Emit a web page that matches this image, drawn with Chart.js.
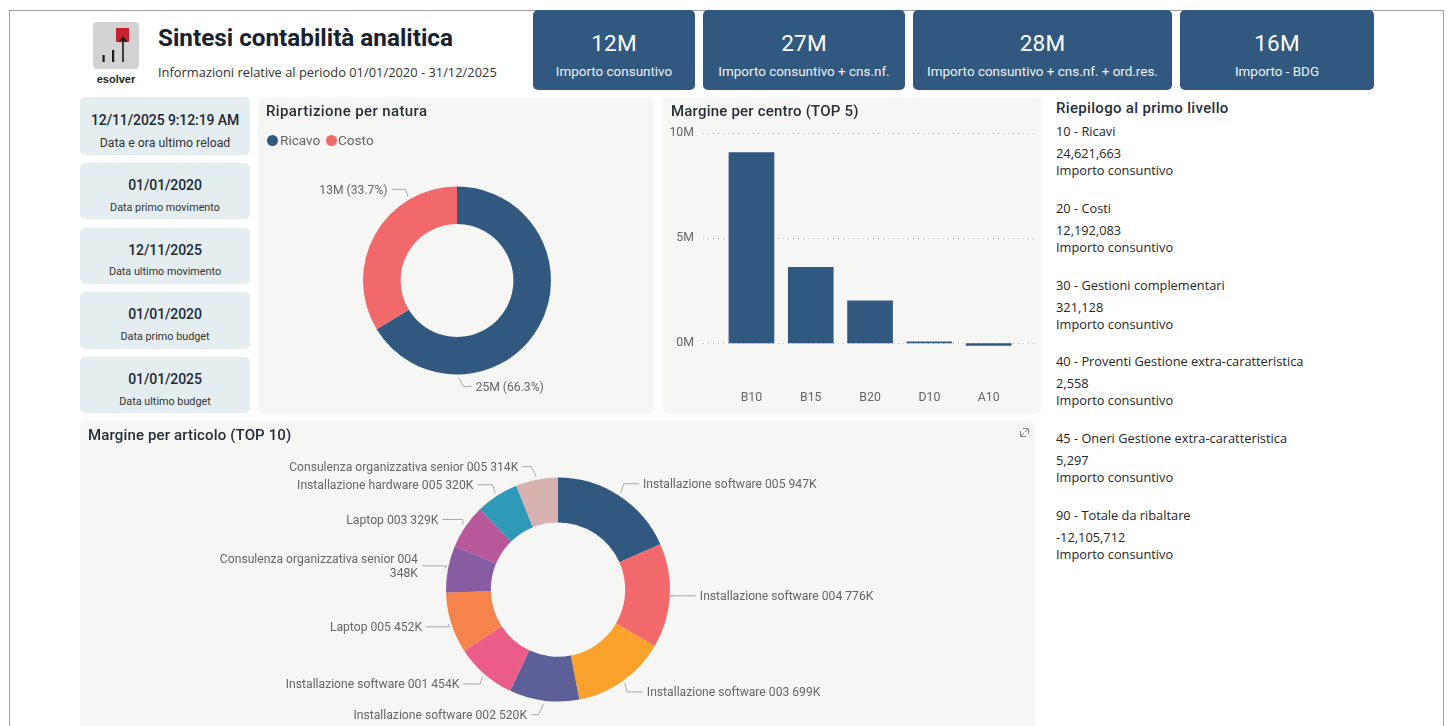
<!DOCTYPE html>
<html lang="it">
<head>
<meta charset="utf-8">
<title>Sintesi contabilità analitica</title>
<script src="https://cdn.jsdelivr.net/npm/chart.js@4"></script>
<style>
html, body { margin: 0; padding: 0; background: #fff; width: 1450px; height: 726px; overflow: hidden; font-family: Roboto, sans-serif; }
.abs { position: absolute; }
#cornice { left: 9px; top: 10px; width: 1435px; height: 730px; border: 1px solid #a0a0a0; box-sizing: border-box; }
.pannello { background: #f6f6f5; border-radius: 6px; }
.kpi { top: 10px; height: 80px; background: #31587f; color: #fff; border-radius: 5px; text-align: center; }
.kpi .val { font-size: 22.5px; font-weight: 400; margin-top: 20px; line-height: 26px; letter-spacing: .2px; }
.kpi .lab { font-size: 13.45px; margin-top: 8px; line-height: 16px; color: #eef2f6; }
.data { left: 80px; width: 170px; background: #e4eef1; border-radius: 5px; text-align: center; color: #1d2833; }
.data .val { font-size: 14px; font-weight: 500; letter-spacing: -.1px; }
.data .lab { color: #333; }
.titolo { font-size: 15px; font-weight: 500; color: #252f3a; white-space: nowrap; }
.riga { left: 1056px; font-size: 12.8px; color: #252525; white-space: nowrap; font-family: "Open Sans", sans-serif; line-height: 17px; }
canvas { position: absolute; display: block; }
.legenda { font-size: 13.6px; color: #666; white-space: nowrap; line-height: 16px; }
.pallino { width: 11px; height: 11px; border-radius: 50%; }
</style>
</head>
<body>
<div id="cornice" class="abs"></div>

<!-- logo -->
<svg class="abs" style="left:92px;top:21px" width="48" height="68" viewBox="0 0 48 68">
  <rect x="1" y="1" width="46" height="47" rx="4" fill="#d2d2d2"/>
  <rect x="24" y="7" width="13" height="14" fill="#c8202c"/>
  <path d="M31 41V17M27.5 21L31 16.5L34.5 21" stroke="#1a1a1a" stroke-width="1.6" fill="none"/>
  <rect x="10.5" y="34" width="2.2" height="7" fill="#1a1a1a"/>
  <rect x="20" y="29" width="2.2" height="12" fill="#1a1a1a"/>
  <text x="24" y="62" text-anchor="middle" font-family="Liberation Sans" font-weight="700" font-size="11" fill="#222">esolver</text>
</svg>

<div class="abs" style="left:158px;top:23px;font-size:24.25px;font-weight:700;color:#18222e;line-height:30px;white-space:nowrap">Sintesi contabilità analitica</div>
<div class="abs" style="left:158px;top:64px;font-size:12.88px;color:#333;line-height:17px;white-space:nowrap;font-family:'Open Sans',sans-serif">Informazioni relative al periodo 01/01/2020 - 31/12/2025</div>

<div id="kpi"></div>
<div id="date"></div>

<div class="abs pannello" style="left:258px;top:97px;width:396px;height:317px">
  <canvas id="chartNatura" width="396" height="317" style="left:0;top:0"></canvas>
</div>
<div class="abs titolo" style="left:266px;top:102px;letter-spacing:.38px">Ripartizione per natura</div>
<div id="legenda"></div>

<div class="abs pannello" style="left:662px;top:97px;width:380px;height:317px">
  <canvas id="chartCentro" width="380" height="317" style="left:0;top:0"></canvas>
</div>
<div class="abs titolo" style="left:671px;top:102px;letter-spacing:.2px">Margine per centro (TOP 5)</div>

<div class="abs titolo" style="left:1056px;top:99px;letter-spacing:.32px">Riepilogo al primo livello</div>
<div id="riepilogo"></div>

<div class="abs pannello" style="left:80px;top:421px;width:955px;height:320px">
  <canvas id="chartArticolo" width="955" height="305" style="left:0;top:0"></canvas>
</div>
<div class="abs titolo" style="left:88px;top:426px;letter-spacing:.14px">Margine per articolo (TOP 10)</div>
<svg class="abs" style="left:1020px;top:428px" width="9" height="9" viewBox="0 0 9 9" fill="none" stroke="#888" stroke-width="1">
  <path d="M.5 3V8.5H6M3 .5H8.5V6M8.5 .5L5 4M.5 8.5L4 5"/>
</svg>

<script>
const kpiValori = ['12M', '27M', '28M', '16M'];
const kpiNomi = ['Importo consuntivo', 'Importo consuntivo + cns.nf.', 'Importo consuntivo + cns.nf. + ord.res.', 'Importo - BDG'];
const dateValori = ['12/11/2025 9:12:19 AM', '01/01/2020', '12/11/2025', '01/01/2020', '01/01/2025'];
const dateNomi = ['Data e ora ultimo reload', 'Data primo movimento', 'Data ultimo movimento', 'Data primo budget', 'Data ultimo budget'];

const nature = ['Ricavo', 'Costo'];
const valoriNatura = [25000000, 12700000];

const centri = ['B10', 'B15', 'B20', 'D10', 'A10'];
const valoriCentro = [9100000, 3630000, 2040000, 80000, -120000];
const tickCentro = [0, 5000000, 10000000];

const articoli = [
    'Installazione software 005', 'Installazione software 004', 'Installazione software 003',
    'Installazione software 002', 'Installazione software 001', 'Laptop 005',
    'Consulenza organizzativa senior 004', 'Laptop 003', 'Installazione hardware 005',
    'Consulenza organizzativa senior 005'
];
const valoriArticolo = [947000, 776000, 699000, 520000, 454000, 452000, 348000, 329000, 320000, 314000];

const livelli = ['10 - Ricavi', '20 - Costi', '30 - Gestioni complementari', '40 - Proventi Gestione extra-caratteristica', '45 - Oneri Gestione extra-caratteristica', '90 - Totale da ribaltare'];
const valoriLivello = ['24,621,663', '12,192,083', '321,128', '2,558', '5,297', '-12,105,712'];

// stile e posizioni
const blu = '#31587f';
const coloriNatura = [blu, '#f2696c'];
const coloriArticolo = [blu, '#f2696c', '#f9a12a', '#5c5f98', '#ec5c89', '#f5834b', '#865ca2', '#b8589a', '#2e9ab8', '#d7b0b0'];
// spostamento dell'etichetta rispetto al punto sul bordo della fetta
const scartiNatura = [[17, 12], [-22, -10]];
const scartiArticolo = [[24, -12], [30, 0], [24, 11], [-17, 14], [-25, 10], [-29, 4], [-30, -3], [-27, -7], [-23.5, -11], [-18.4, -13]];
const kpiBox = [[533, 162], [703, 202], [913, 259], [1180, 194]];
const dateBox = [[97, 58, 12.3, 15, 7], [163, 56, 10.8, 14, 7], [228, 56, 10.8, 14, 6], [292, 57, 10.8, 14, 7], [357, 56, 10.8, 14, 7]];

function aggiungi(idPadre, html) {
    document.getElementById(idPadre).insertAdjacentHTML('beforeend', html);
}

kpiValori.forEach((v, i) => {
    aggiungi('kpi', `<div class="abs kpi" style="left:${kpiBox[i][0]}px;width:${kpiBox[i][1]}px"><div class="val">${v}</div><div class="lab">${kpiNomi[i]}</div></div>`);
});
dateValori.forEach((v, i) => {
    const [top, h, fs, mt, gap] = dateBox[i];
    aggiungi('date', `<div class="abs data" style="top:${top}px;height:${h}px"><div class="val" style="margin-top:${mt}px;line-height:17px">${v}</div><div class="lab" style="font-size:${fs}px;margin-top:${gap}px;line-height:14px">${dateNomi[i]}</div></div>`);
});
livelli.forEach((nome, i) => {
    const y = 123 + i * 76.8;
    aggiungi('riepilogo', `<div class="abs riga" style="top:${y}px">${nome}</div><div class="abs riga" style="top:${y + 22}px">${valoriLivello[i]}</div><div class="abs riga" style="top:${y + 39}px">${kpiNomi[0]}</div>`);
});
aggiungi('legenda', `<div class="abs pallino" style="left:267px;top:135px;background:${coloriNatura[0]}"></div><div class="abs legenda" style="left:280px;top:132px">${nature[0]}</div><div class="abs pallino" style="left:326px;top:135px;background:${coloriNatura[1]}"></div><div class="abs legenda" style="left:338px;top:132px">${nature[1]}</div>`);

// etichette esterne con linea guida
const etichettePlugin = {
    id: 'etichette',
    afterDatasetsDraw(chart, args, opts) {
        const ctx = chart.ctx;
        ctx.save();
        ctx.font = '12.15px Roboto';
        ctx.fillStyle = '#666';
        ctx.strokeStyle = '#aaa';
        ctx.lineWidth = 1;
        ctx.textBaseline = 'middle';
        chart.getDatasetMeta(0).data.forEach((arc, i) => {
            const a = arc.startAngle + (arc.endAngle - arc.startAngle) * opts.frazione;
            const px = arc.x + Math.cos(a) * arc.outerRadius;
            const py = arc.y + Math.sin(a) * arc.outerRadius;
            const [dx, dy] = opts.scarti[i];
            const segno = dx >= 0 ? 1 : -1;
            const tx = px + dx;
            const ty = py + dy;
            ctx.beginPath();
            ctx.moveTo(px + Math.cos(a) * 3, py + Math.sin(a) * 3);
            ctx.lineTo(px + segno * Math.abs(dy) * 0.4, ty);
            ctx.lineTo(tx - segno * 4, ty);
            ctx.stroke();
            ctx.textAlign = segno > 0 ? 'left' : 'right';
            const righe = opts.testi[i];
            righe.forEach((r, k) => ctx.fillText(r, tx, ty + 1.5 + (k - (righe.length - 1) / 2) * 14));
        });
        ctx.restore();
    }
};

const totaleNatura = valoriNatura.reduce((a, b) => a + b, 0);
new Chart(document.getElementById('chartNatura'), {
    type: 'doughnut',
    plugins: [etichettePlugin],
    data: {
        labels: nature,
        datasets: [{ data: valoriNatura, backgroundColor: coloriNatura, borderWidth: 0 }]
    },
    options: {
        responsive: false,
        animation: false,
        cutout: '60%',
        layout: { padding: { left: 105, right: 103, top: 89.5, bottom: 39.5 } },
        plugins: {
            legend: { display: false },
            tooltip: { enabled: false },
            etichette: {
                frazione: 0.75,
                scarti: scartiNatura,
                testi: valoriNatura.map(v => [`${Math.round(v / 1e6)}M (${(v / totaleNatura * 100).toFixed(1)}%)`])
            }
        }
    }
});

// griglia puntinata più larga dell'area delle barre
const grigliaPlugin = {
    id: 'griglia',
    beforeDatasetsDraw(chart) {
        const ctx = chart.ctx;
        const y = chart.scales.y;
        ctx.save();
        ctx.strokeStyle = '#bbb';
        ctx.lineWidth = 1;
        ctx.setLineDash([1, 4]);
        tickCentro.forEach(t => {
            const py = Math.round(y.getPixelForValue(t)) + 0.5;
            ctx.beginPath();
            ctx.moveTo(41, py);
            ctx.lineTo(375, py);
            ctx.stroke();
        });
        ctx.restore();
    }
};

new Chart(document.getElementById('chartCentro'), {
    type: 'bar',
    plugins: [grigliaPlugin],
    data: {
        labels: centri,
        datasets: [{
            label: 'Margine',
            data: valoriCentro,
            backgroundColor: blu,
            categoryPercentage: 1,
            barPercentage: 0.77
        }]
    },
    options: {
        responsive: false,
        animation: false,
        layout: { padding: { left: 0, right: 23.7, top: 36.3, bottom: 0 } },
        plugins: { legend: { display: false }, tooltip: { enabled: false } },
        scales: {
            x: {
                grid: { display: false },
                border: { display: false },
                ticks: { color: '#666', font: { family: 'Roboto', size: 12.3 }, padding: 9 }
            },
            y: {
                min: -1430000,
                max: 10000000,
                afterBuildTicks: s => { s.ticks = tickCentro.map(v => ({ value: v })); },
                afterFit: s => { s.width = 59.8; },
                grid: { display: false, drawTicks: false },
                border: { display: false },
                ticks: {
                    color: '#666',
                    font: { family: 'Roboto', size: 12.3 },
                    padding: 27.8,
                    callback: v => (v / 1e6) + 'M'
                }
            }
        }
    }
});

const aCapo = [6];
new Chart(document.getElementById('chartArticolo'), {
    type: 'doughnut',
    plugins: [etichettePlugin],
    data: {
        labels: articoli,
        datasets: [{ data: valoriArticolo, backgroundColor: coloriArticolo, borderWidth: 0 }]
    },
    options: {
        responsive: false,
        animation: false,
        cutout: '60%',
        layout: { padding: { left: 366, right: 365, top: 56.6, bottom: 24.4 } },
        plugins: {
            legend: { display: false },
            tooltip: { enabled: false },
            etichette: {
                frazione: 0.5,
                scarti: scartiArticolo,
                testi: articoli.map((nome, i) => {
                    const k = (valoriArticolo[i] / 1000) + 'K';
                    return aCapo.includes(i) ? [nome, k] : [nome + ' ' + k];
                })
            }
        }
    }
});
</script>
</body>
</html>
